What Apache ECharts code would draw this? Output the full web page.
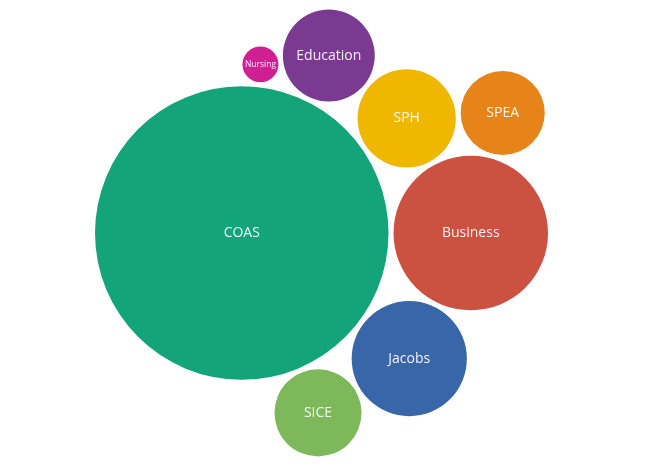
<!DOCTYPE html>
<html>
<head>
<meta charset="utf-8">
<script src="https://cdn.jsdelivr.net/npm/echarts@6/dist/echarts.min.js"></script>
<style>
html,body{margin:0;padding:0;background:#fff;}
#main{width:653px;height:467px;}
</style>
</head>
<body>
<div id="main"></div>
<script>
// ---- data ----
var schools = ['COAS', 'Business', 'Jacobs', 'SPH', 'Education', 'SICE', 'SPEA', 'Nursing'];
var values  = [1000, 277, 154, 112, 98, 88, 82, 15];
var colors  = ['#14a47a', '#cb5140', '#3866a8', '#f0b701', '#7b3a92', '#7db85a', '#e6841a', '#d01f93'];

// ---- circle packing (front-chain, as in d3.packSiblings) ----
function place(b, a, c) {
  var dx = b.x - a.x, x, a2, dy = b.y - a.y, y, b2, d2 = dx * dx + dy * dy;
  if (d2) {
    a2 = a.r + c.r; a2 *= a2;
    b2 = b.r + c.r; b2 *= b2;
    if (a2 > b2) {
      x = (d2 + b2 - a2) / (2 * d2);
      y = Math.sqrt(Math.max(0, b2 / d2 - x * x));
      c.x = b.x - x * dx - y * dy;
      c.y = b.y - x * dy + y * dx;
    } else {
      x = (d2 + a2 - b2) / (2 * d2);
      y = Math.sqrt(Math.max(0, a2 / d2 - x * x));
      c.x = a.x + x * dx - y * dy;
      c.y = a.y + x * dy + y * dx;
    }
  } else {
    c.x = a.x + c.r; c.y = a.y;
  }
}
function intersects(a, b) {
  var dr = a.r + b.r - 1e-6, dx = b.x - a.x, dy = b.y - a.y;
  return dr > 0 && dr * dr > dx * dx + dy * dy;
}
function score(node) {
  var a = node._, b = node.next._, ab = a.r + b.r,
      dx = (a.x * b.r + b.x * a.r) / ab,
      dy = (a.y * b.r + b.y * a.r) / ab;
  return dx * dx + dy * dy;
}
function Node(c) { this._ = c; this.next = null; this.previous = null; }
function packSiblings(circles) {
  var n = circles.length, a, b, c, aa, ca, i, j, k, sj, sk;
  a = circles[0]; a.x = 0; a.y = 0;
  if (n < 2) return;
  b = circles[1]; a.x = -b.r; b.x = a.r; b.y = 0;
  if (n < 3) return;
  place(b, a, c = circles[2]);
  a = new Node(a); b = new Node(b); c = new Node(c);
  a.next = c.previous = b;
  b.next = a.previous = c;
  c.next = b.previous = a;
  pack: for (i = 3; i < n; ++i) {
    place(a._, b._, c = circles[i]); c = new Node(c);
    j = b.next; k = a.previous; sj = b._.r; sk = a._.r;
    do {
      if (sj <= sk) {
        if (intersects(j._, c._)) { b = j; a.next = b; b.previous = a; --i; continue pack; }
        sj += j._.r; j = j.next;
      } else {
        if (intersects(k._, c._)) { a = k; a.next = b; b.previous = a; --i; continue pack; }
        sk += k._.r; k = k.previous;
      }
    } while (j !== k.next);
    c.previous = a; c.next = b; a.next = b.previous = b = c;
    aa = score(a);
    while ((c = c.next) !== b) {
      if ((ca = score(c)) < aa) { a = c; aa = ca; }
    }
    b = a.next;
  }
}

var PAD = 0.54;
var circles = schools.map(function (s, i) {
  return { name: s, value: values[i], color: colors[i], r: Math.sqrt(values[i]) + PAD };
});
circles.sort(function (p, q) { return q.value - p.value; });
packSiblings(circles);
circles.forEach(function (c) { c.r -= PAD; });

var minX = Infinity, maxX = -Infinity, minY = Infinity, maxY = -Infinity;
circles.forEach(function (c) {
  minX = Math.min(minX, c.x - c.r); maxX = Math.max(maxX, c.x + c.r);
  minY = Math.min(minY, c.y - c.r); maxY = Math.max(maxY, c.y + c.r);
});
// fit plot area
var areaLeft = 95, areaRight = 548, areaCY = 233;
var k = (areaRight - areaLeft) / (maxX - minX);
var gh = (maxY - minY) * k;

var chart = echarts.init(document.getElementById('main'), null, { renderer: 'canvas' });
chart.setOption({
  animation: false,
  backgroundColor: '#ffffff',
  grid: { left: areaLeft, width: areaRight - areaLeft, top: areaCY - gh / 2, height: gh },
  xAxis: { type: 'value', min: minX, max: maxX, show: false },
  yAxis: { type: 'value', min: minY, max: maxY, inverse: true, show: false },
  series: [{
    type: 'custom',
    coordinateSystem: 'cartesian2d',
    data: circles.map(function (c) { return [c.x, c.y, c.r, c.name, c.value]; }),
    renderItem: function (params, api) {
      var c = circles[params.dataIndex];
      var p = api.coord([c.x, c.y]);
      var r = api.size([c.r, 0])[0];
      var fs = r < 25 ? 8.5 : 14;
      return {
        type: 'group',
        children: [{
          type: 'circle',
          shape: { cx: p[0], cy: p[1], r: r },
          style: { fill: c.color }
        }, {
          type: 'text',
          x: p[0], y: p[1],
          style: {
            text: c.name,
            fill: 'rgba(255,255,255,0.92)',
            font: fs + 'px "Open Sans", sans-serif',
            align: 'center',
            verticalAlign: 'middle'
          }
        }]
      };
    }
  }]
});
</script>
</body>
</html>
